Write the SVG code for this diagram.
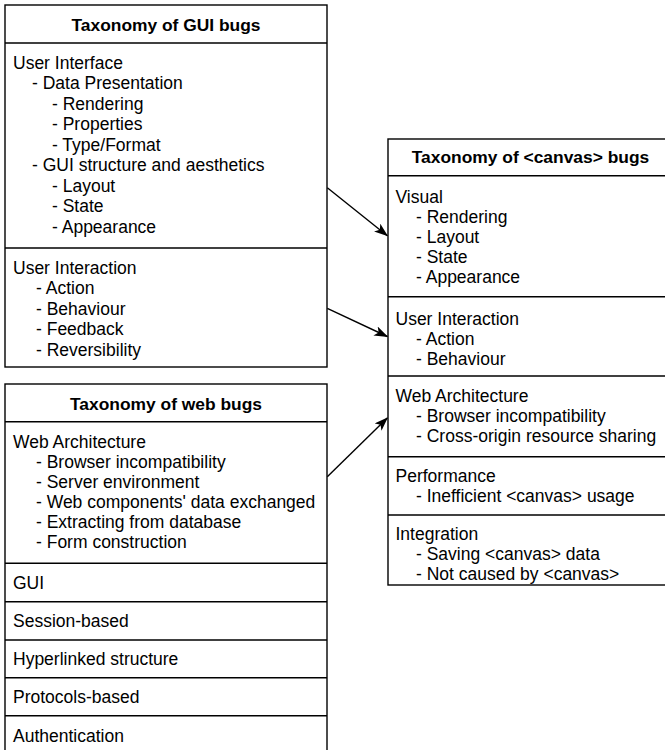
<svg xmlns="http://www.w3.org/2000/svg" width="665" height="750" viewBox="0 0 665 750">
<defs>
<style>
.box{fill:#fff;stroke:#000;stroke-width:1.4}
.ln{stroke:#000;stroke-width:1.4;fill:none}
.t{font-family:"Liberation Sans",Arial,sans-serif;font-size:17.5px;fill:#000;white-space:pre}
.h{font-family:"Liberation Sans",Arial,sans-serif;font-size:17.4px;font-weight:bold;fill:#000;text-anchor:middle}
.con{stroke:#000;stroke-width:1.4;fill:none;marker-end:url(#arr)}
</style>
<marker id="arr" markerUnits="userSpaceOnUse" viewBox="0 0 14 10" refX="13" refY="5" markerWidth="14" markerHeight="10" orient="auto">
<path d="M0,0 L14,5 L0,10 L3.5,5 z" fill="#000"/>
</marker>
</defs>
<rect width="665" height="750" fill="#fff"/>

<g id="gui-bugs">
<rect class="box" x="5" y="5" width="322" height="362"/>
<line class="ln" x1="5" y1="43" x2="327" y2="43"/>
<line class="ln" x1="5" y1="248" x2="327" y2="248"/>
<text class="h" x="166" y="30.5">Taxonomy of GUI bugs</text>
<text class="t" x="13" y="68.5">User Interface</text>
<text class="t" x="32" y="89">- Data Presentation</text>
<text class="t" x="52" y="109.5">- Rendering</text>
<text class="t" x="52" y="130">- Properties</text>
<text class="t" x="52" y="150.5">- Type/Format</text>
<text class="t" x="32" y="171">- GUI structure and aesthetics</text>
<text class="t" x="52" y="191.5">- Layout</text>
<text class="t" x="52" y="212">- State</text>
<text class="t" x="52" y="232.5">- Appearance</text>
<text class="t" x="13" y="273.5">User Interaction</text>
<text class="t" x="36" y="294">- Action</text>
<text class="t" x="36" y="314.5">- Behaviour</text>
<text class="t" x="36" y="335">- Feedback</text>
<text class="t" x="36" y="355.5">- Reversibility</text>
</g>

<g id="web-bugs">
<rect class="box" x="5" y="384" width="322" height="372"/>
<line class="ln" x1="5" y1="421.7" x2="327" y2="421.7"/>
<line class="ln" x1="5" y1="563.3" x2="327" y2="563.3"/>
<line class="ln" x1="5" y1="601.7" x2="327" y2="601.7"/>
<line class="ln" x1="5" y1="640" x2="327" y2="640"/>
<line class="ln" x1="5" y1="677.7" x2="327" y2="677.7"/>
<line class="ln" x1="5" y1="715.7" x2="327" y2="715.7"/>
<text class="h" x="166" y="410">Taxonomy of web bugs</text>
<text class="t" x="13" y="448.3">Web Architecture</text>
<text class="t" x="36" y="468.3">- Browser incompatibility</text>
<text class="t" x="36" y="488.3">- Server environment</text>
<text class="t" x="36" y="508.3">- Web components' data exchanged</text>
<text class="t" x="36" y="528.3">- Extracting from database</text>
<text class="t" x="36" y="548.3">- Form construction</text>
<text class="t" x="13" y="589">GUI</text>
<text class="t" x="13" y="626.7">Session-based</text>
<text class="t" x="13" y="665">Hyperlinked structure</text>
<text class="t" x="13" y="702.7">Protocols-based</text>
<text class="t" x="13" y="741.7">Authentication</text>
</g>

<g id="canvas-bugs">
<rect class="box" x="388" y="139" width="286" height="446"/>
<line class="ln" x1="388" y1="175.7" x2="674" y2="175.7"/>
<line class="ln" x1="388" y1="296.7" x2="674" y2="296.7"/>
<line class="ln" x1="388" y1="376" x2="674" y2="376"/>
<line class="ln" x1="388" y1="456.7" x2="674" y2="456.7"/>
<line class="ln" x1="388" y1="515" x2="674" y2="515"/>
<text class="h" x="530.5" y="163.3">Taxonomy of &lt;canvas&gt; bugs</text>
<text class="t" x="395.5" y="202.7">Visual</text>
<text class="t" x="416" y="222.7">- Rendering</text>
<text class="t" x="416" y="242.7">- Layout</text>
<text class="t" x="416" y="262.7">- State</text>
<text class="t" x="416" y="282.7">- Appearance</text>
<text class="t" x="395.5" y="325">User Interaction</text>
<text class="t" x="416" y="345">- Action</text>
<text class="t" x="416" y="365">- Behaviour</text>
<text class="t" x="395.5" y="401.7">Web Architecture</text>
<text class="t" x="416" y="421.7">- Browser incompatibility</text>
<text class="t" x="416" y="441.7">- Cross-origin resource sharing</text>
<text class="t" x="395.5" y="481.7">Performance</text>
<text class="t" x="416" y="501.7">- Inefficient &lt;canvas&gt; usage</text>
<text class="t" x="395.5" y="540">Integration</text>
<text class="t" x="416" y="560">- Saving &lt;canvas&gt; data</text>
<text class="t" x="416" y="580">- Not caused by &lt;canvas&gt;</text>
</g>

<g id="connectors">
<line class="con" x1="327.3" y1="187.7" x2="387.3" y2="235.7"/>
<line class="con" x1="327.3" y1="308.3" x2="387.3" y2="336.5"/>
<line class="con" x1="327.3" y1="476.7" x2="387.3" y2="418"/>
</g>
</svg>
